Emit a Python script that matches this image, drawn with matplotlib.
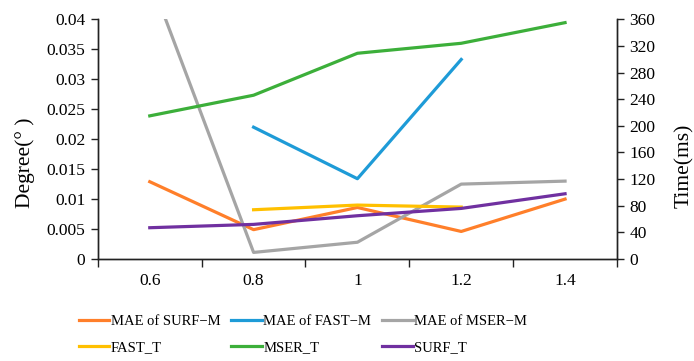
import matplotlib.pyplot as plt
import numpy as np

plt.rcParams['font.family'] = ['Liberation Serif', 'DejaVu Serif']

scales = ['0.6', '0.8', '1', '1.2', '1.4']

# MAE in degrees (left axis)
mae_surf = [0.0129, 0.0049, 0.0086, 0.0046, 0.0100]
mae_fast = [np.nan, 0.0220, 0.0134, 0.0333, np.nan]
mae_mser = [0.0470, 0.0011, 0.0028, 0.0125, 0.0130]

# time in ms (right axis)
fast_t = [np.nan, 74, 81, 78, np.nan]
mser_t = [215, 246, 309, 324, 355]
surf_t = [47, 52, 65, 76, 98]

c_orange = '#FF7F2A'
c_blue = '#1E9BD7'
c_gray = '#A5A5A5'
c_yellow = '#FFC000'
c_green = '#3CAF3A'
c_purple = '#7030A0'

fig = plt.figure(figsize=(6.94, 3.61), dpi=100)
ax = fig.add_axes([0.141, 0.2825, 0.748, 0.664])
ax2 = ax.twinx()

x = np.arange(len(scales))
lw = 2.3

l1, = ax.plot(x, mae_surf, color=c_orange, lw=lw, label='MAE of SURF\u2212M')
l2, = ax.plot(x, mae_fast, color=c_blue, lw=lw, label='MAE of FAST\u2212M')
l3, = ax.plot(x, mae_mser, color=c_gray, lw=lw, label='MAE of MSER\u2212M')
l4, = ax2.plot(x, fast_t, color=c_yellow, lw=lw, label='FAST_T')
l5, = ax2.plot(x, mser_t, color=c_green, lw=lw, label='MSER_T')
l6, = ax2.plot(x, surf_t, color=c_purple, lw=lw, label='SURF_T')

ax.set_xlim(-0.5, 4.5)
ax.set_ylim(0, 0.04)
ax2.set_ylim(0, 360)

ax.set_yticks(np.arange(0, 0.0401, 0.005))
ax.set_yticklabels(['0', '0.005', '0.01', '0.015', '0.02', '0.025', '0.03', '0.035', '0.04'])
ax2.set_yticks(np.arange(0, 361, 40))

ax.set_xticks(np.arange(-0.5, 4.6, 1))
ax.set_xticklabels([])
ax.set_xticks(x, minor=True)
ax.set_xticklabels(scales, minor=True)
ax.tick_params(axis='x', which='minor', length=0, pad=10, labelsize=12.5)
ax.tick_params(axis='x', which='major', length=6, width=1, color='#222222')

for a in (ax, ax2):
    a.spines['top'].set_visible(False)
    for s in a.spines.values():
        s.set_color('#222222')
        s.set_linewidth(1)
    a.tick_params(axis='y', length=5, width=1, color='#222222', labelsize=12.5, pad=4)

fig.text(25 / 694, 1 - 163 / 361, 'Degree(\u00b0 )', fontsize=15.5,
         rotation=90, ha='center', va='center')
fig.text(684 / 694, 1 - 166 / 361, 'Time(ms)', fontsize=15.5,
         rotation=90, ha='center', va='center')

handles = [l1, l4, l2, l5, l3, l6]
fig.legend(handles=handles, labels=[h.get_label() for h in handles],
           ncol=3, loc='upper left', bbox_to_anchor=(0.105, 0.145),
           frameon=False, fontsize=10.5, handlelength=2.1, handletextpad=0.1,
           columnspacing=0.75, labelspacing=0.9, borderaxespad=0)

plt.savefig('out.png', dpi=100)
plt.close()
